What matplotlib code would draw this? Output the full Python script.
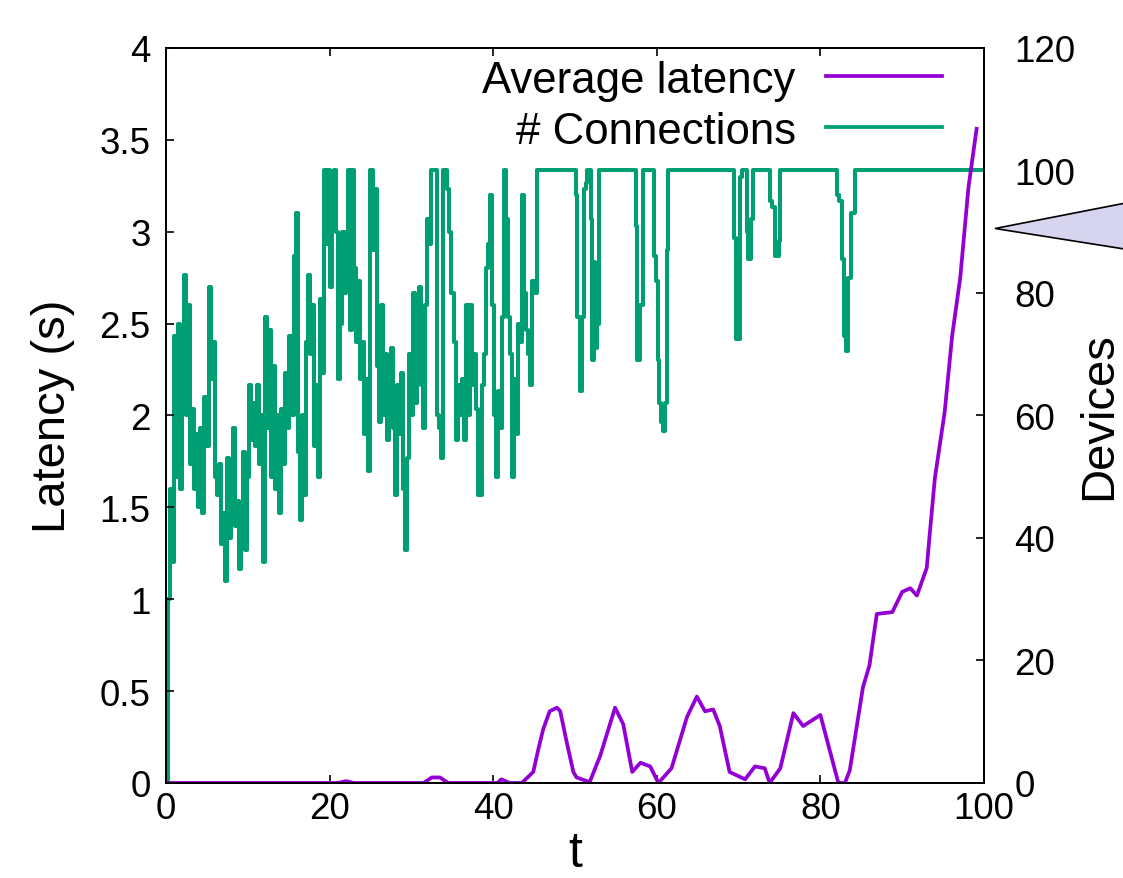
import numpy as np
import matplotlib
matplotlib.use("Agg")
import matplotlib.pyplot as plt
from matplotlib.patches import Polygon

plt.rcParams["font.family"] = ["Liberation Sans", "DejaVu Sans"]

# average latency (s)
lat_t = [0, 21, 22, 23, 31.5, 32.5, 33.5, 34.5, 40.5, 41, 42, 43.5, 44.9, 45.5,
         46.1, 46.9, 47.8, 48.2, 49, 49.8, 50.2, 51.8, 53.1, 54.9, 55.9, 57,
         58, 59.2, 60.2, 61.8, 63.7, 64.9, 65.9, 66.9, 67.7, 68.9, 70.8, 72,
         73.2, 73.8, 75.1, 76.7, 77.9, 80, 82.2, 83, 83.6, 85.2, 86, 86.9,
         88.8, 90, 91, 91.8, 93, 93.4, 94, 95.2, 96.1, 97.1, 98.1, 99.1]
lat_v = [0, 0, 0.01, 0, 0, 0.03, 0.03, 0, 0, 0.02, 0, 0, 0.06, 0.18,
         0.29, 0.39, 0.41, 0.39, 0.22, 0.06, 0.03, 0.005, 0.15, 0.41, 0.32, 0.06,
         0.11, 0.09, 0.0, 0.08, 0.36, 0.47, 0.39, 0.40, 0.31, 0.06, 0.02, 0.09,
         0.08, 0.0, 0.08, 0.38, 0.31, 0.37, 0.0, 0.0, 0.07, 0.52, 0.64, 0.92,
         0.93, 1.04, 1.06, 1.02, 1.17, 1.37, 1.66, 2.02, 2.43, 2.75, 3.24, 3.56]

# number of connections, t = 0 .. 45.3 (noisy part)
conn_early = [
    0, 30, 48, 36, 73, 50, 75, 48, 65, 83, 60, 78, 52, 61, 48, 57, 45, 58, 44, 63,
    55, 81, 66, 72, 50, 47, 52, 39, 44, 33, 53, 40, 48, 58, 42, 46, 35, 40, 54, 38,
    50, 65, 56, 62,
    55, 65, 52, 60, 36, 76, 58, 74, 50, 68, 48, 60, 44, 61, 52, 67, 58, 73, 60, 86,
    93, 54, 43, 60, 47, 72, 83, 70, 78, 55, 65, 50, 79, 67, 100, 88, 100, 81, 96, 100,
    90, 66, 75, 90, 80,
    90, 100, 74, 100, 84, 72, 82, 66, 72, 57, 66, 51, 100, 87, 97, 68, 59, 78, 60, 70,
    56, 69, 71, 58, 47, 65, 57, 67, 48, 38, 53, 70, 60, 80, 62, 70, 81, 65, 58, 78,
    92, 88, 100, 100,
    100, 60, 58, 53, 100, 100, 97, 90, 80, 72, 56, 65, 60, 66, 56, 78, 60, 78, 65, 70,
    61, 47, 47, 65, 70, 84, 88, 96, 78, 60, 50, 64, 58, 76, 100, 92, 76, 70, 50, 66,
    57, 75, 72, 96, 80, 74, 70, 65, 82, 80,
]
conn_early_end = 45.3

# number of connections after t = 45.3: step change points
conn_late_t = [45.3, 50.1, 50.3, 50.6, 50.9, 51.1, 51.3, 51.5,
               51.9, 52.1, 52.3, 52.5, 52.7, 52.95,
               57.4, 57.6, 58.0, 58.3,
               59.7, 59.9, 60.1, 60.3, 60.5, 60.7, 61.0, 61.2, 61.4,
               69.5, 69.7, 70.2, 70.4,
               71.0, 71.2, 71.5, 71.8,
               73.8, 74.1, 74.5, 74.9, 75.1,
               82.0, 82.3, 82.7, 82.9, 83.1, 83.4, 83.8, 84.2, 100]
conn_late_v = [100, 96, 76, 64, 76, 97, 98, 100,
               92, 69, 85, 71, 75, 100,
               91, 69, 78, 100,
               86, 82, 69, 62, 59, 57.5, 62, 87, 100,
               89, 72.5, 99, 100,
               90, 85.5, 92, 100,
               95, 94, 86, 88.5, 100,
               96, 95, 85.5, 73, 70.5, 82.5, 93, 100, 100]

conn_t = np.concatenate([np.linspace(0, conn_early_end, len(conn_early), endpoint=False),
                         conn_late_t])
conn_v = np.concatenate([conn_early, conn_late_v])

purple = "#9400d3"
green = "#009e73"

fig = plt.figure(figsize=(11.23, 8.79), dpi=100)
ax = fig.add_axes([0.1478, 0.1081, 0.7284, 0.8362])
ax2 = ax.twinx()

l2, = ax2.plot(conn_t, conn_v, drawstyle="steps-post", color=green, lw=2.9,
               label="# Connections")
l1, = ax.plot(lat_t, lat_v, color=purple, lw=2.7, label="Average latency")
ax.set_zorder(ax2.get_zorder() + 1)
ax.patch.set_visible(False)

ax.set_xlim(0, 100)
ax.set_ylim(0, 4)
ax2.set_ylim(0, 120)
ax.set_xticks(range(0, 101, 20))
ax.set_yticks(np.arange(0, 4.01, 0.5))
ax.set_yticklabels(["0", "0.5", "1", "1.5", "2", "2.5", "3", "3.5", "4"])
ax2.set_yticks(range(0, 121, 20))

ax.tick_params(axis="both", direction="in", length=6, width=1.2, labelsize=26.5)
ax.tick_params(axis="y", pad=11)
ax.tick_params(axis="x", pad=6, top=True)
ax2.tick_params(axis="y", direction="in", length=6, width=1.2, labelsize=26.5, pad=22)
for a in (ax, ax2):
    for s in a.spines.values():
        s.set_linewidth(1.3)

ax.set_xlabel("t", fontsize=36, labelpad=3)
ax.set_ylabel("Latency (s)", fontsize=34, labelpad=18)
ax2.set_ylabel("Devices", fontsize=34, labelpad=1)

leg_line1 = plt.Line2D([], [], color=purple, lw=2.7)
leg_line2 = plt.Line2D([], [], color=green, lw=2.7)
ax.legend([leg_line1, leg_line2], ["Average latency", "# Connections"], loc="upper right",
          bbox_to_anchor=(0.949, 0.984), frameon=False, fontsize=31.5,
          markerfirst=False, handlelength=2.65, handletextpad=0.7,
          labelspacing=0.23, borderpad=0, borderaxespad=0)

# callout pointer coming in from the right edge
W, H = 1123, 879
tri = Polygon([(995 / W, 1 - 229.5 / H), (1200 / W, 1 - 189.5 / H),
               (1200 / W, 1 - 262 / H)], closed=True, transform=fig.transFigure,
              facecolor="#d6d4ee", edgecolor="black", lw=1.2)
fig.patches.append(tri)

fig.savefig("out.png", dpi=100)
